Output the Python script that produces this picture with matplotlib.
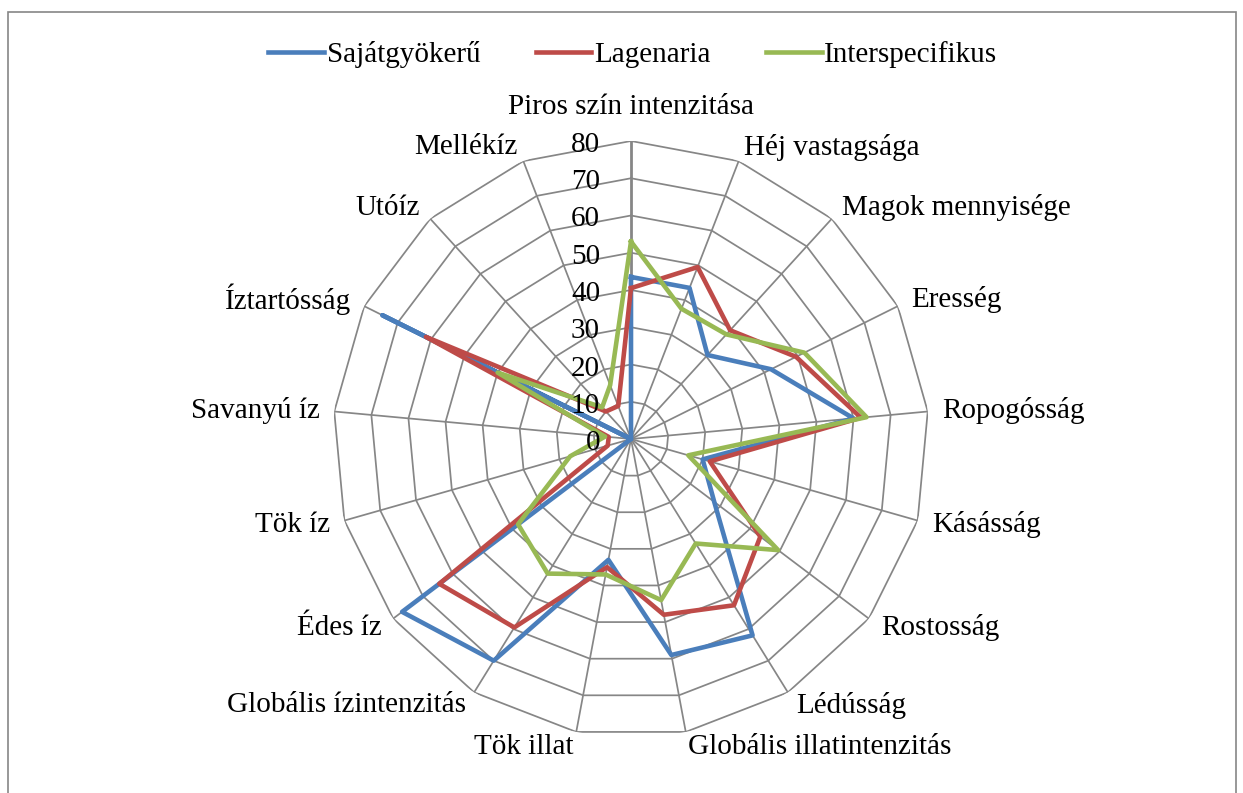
import numpy as np
import matplotlib
matplotlib.use("Agg")
import matplotlib.pyplot as plt
from matplotlib.patches import Rectangle
from matplotlib.transforms import offset_copy

plt.rcParams["font.family"] = ["Liberation Serif", "DejaVu Serif"]

# categories, clockwise from the top
categories = [
    "Piros szín intenzitása", "Héj vastagsága", "Magok mennyisége", "Eresség",
    "Ropogósság", "Kásásság", "Rostosság", "Lédússág",
    "Globális illatintenzitás", "Tök illat", "Globális ízintenzitás", "Édes íz",
    "Tök íz", "Savanyú íz", "Íztartósság", "Utóíz", "Mellékíz",
]
sajatgyokeru = [43.5, 43.5, 30.5, 42, 60, 20, 28, 62, 59, 33, 70, 77, 0, 0, 74.5, 0, 0]
lagenaria = [40.5, 49.5, 39.5, 49.5, 62, 22, 43.5, 52.5, 48, 35, 59.5, 64.5, 6.5, 6, 61.5, 10, 9.5]
interspecifikus = [53, 37.5, 38, 52, 63.5, 16, 49.5, 33, 44, 37, 42.5, 38, 17, 7, 40, 11.5, 15.5]
series_names = ["Sajátgyökerű", "Lagenaria", "Interspecifikus"]
series_colors = ["#4A7EBB", "#BE4B48", "#98B954"]
ring_values = [0, 10, 20, 30, 40, 50, 60, 70, 80]

W, H = 1243, 793
fs = 21
fig = plt.figure(figsize=(W / 100, H / 100), dpi=100)

# outer chart frame
fig.add_artist(Rectangle((8 / W, -0.05), (1236 - 8) / W, 1 - 12 / H + 0.05,
                         transform=fig.transFigure, fill=False,
                         edgecolor="#868686", lw=1.2))

cx, cy, R = 631, 439, 298
ax = fig.add_axes([(cx - R) / W, (H - cy - R) / H, 2 * R / W, 2 * R / H],
                  projection="polar")
ax.set_theta_zero_location("N")
ax.set_theta_direction(-1)
ax.set_ylim(0, 80)
ax.grid(False)
ax.spines["polar"].set_visible(False)
ax.set_xticks([])
ax.set_yticks([])
ax.patch.set_alpha(0)

n = len(categories)
theta = np.arange(n) * 2 * np.pi / n
theta_c = np.append(theta, theta[0])
grid_color = "#868686"

# polygon grid rings and spokes
for v in ring_values[1:]:
    ax.plot(theta_c, [v] * (n + 1), color=grid_color, lw=1.25, zorder=1)
for i, t in enumerate(theta):
    ax.plot([t, t], [0, 80], color=grid_color, lw=2.0 if i == 0 else 1.25, zorder=1)

# data series
for vals, name, col in zip([sajatgyokeru, lagenaria, interspecifikus],
                           series_names, series_colors):
    ax.plot(theta_c, vals + vals[:1], color=col, lw=3.3, label=name, zorder=3)

# radial value labels
off = offset_copy(ax.transData, fig=fig, x=-0.31, y=-0.04, units="inches")
for v in ring_values:
    ax.text(0, v, str(v), transform=off, ha="right", va="center",
            fontsize=fs, zorder=4)

# category labels
for t, lab in zip(theta, categories):
    s = np.sin(t)
    if abs(s) < 1e-6:
        ax.text(t, 89, lab, ha="center", va="center", fontsize=fs)
    else:
        ax.text(t, 84, lab, ha="left" if s > 0 else "right", va="center",
                fontsize=fs)

fig.legend(loc="center", bbox_to_anchor=(633 / W, 1 - 55 / H), ncol=3,
           frameon=False, fontsize=fs, handlelength=1.9, handletextpad=0.1,
           columnspacing=1.9)

fig.savefig("out.png", dpi=100)
